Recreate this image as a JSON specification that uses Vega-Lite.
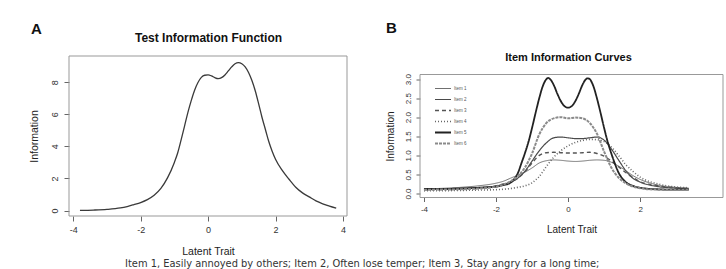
{
  "$schema": "https://vega.github.io/schema/vega-lite/v6.json",
  "autosize": {"type": "none"},
  "padding": {"left": 69, "top": 56, "right": 657, "bottom": 213},
  "background": "white",
  "bounds": "flush",
  "center": true,
  "spacing": 73,
  "config": {
    "font": "Liberation Sans",
    "view": {"stroke": null},
    "axis": {"grid": false, "domain": false, "tickColor": "#666", "labelColor": "#333", "titleColor": "#222", "titleFontWeight": "normal", "labelFont": "Liberation Sans", "titleFont": "Liberation Sans"},
    "legend": {"padding": 0}
  },
  "resolve": {"legend": {"color": "independent", "strokeDash": "independent", "strokeWidth": "independent"}},
  "title": {
    "text": "Item 1, Easily annoyed by others; Item 2, Often lose temper; Item 3, Stay angry for a long time;",
    "orient": "bottom", "anchor": "middle", "font": "DejaVu Sans", "fontSize": 9.9, "fontWeight": "normal", "color": "#333", "offset": 2, "dx": -14
  },
  "hconcat": [
    {
      "width": 278,
      "height": 160,
      "title": {"text": "A", "anchor": "start", "frame": "group", "fontSize": 15, "fontWeight": "bold", "color": "#111", "dx": -38, "dy": 10},
      "data": {"values": [
        {"theta": -3.8, "info": 0.01}, {"theta": -3.4, "info": 0.03}, {"theta": -3.0, "info": 0.07}, {"theta": -2.6, "info": 0.16},
        {"theta": -2.4, "info": 0.25}, {"theta": -2.2, "info": 0.37}, {"theta": -2.0, "info": 0.5}, {"theta": -1.8, "info": 0.68},
        {"theta": -1.6, "info": 0.95}, {"theta": -1.4, "info": 1.38}, {"theta": -1.2, "info": 2.05}, {"theta": -1.0, "info": 3.0},
        {"theta": -0.9, "info": 3.6}, {"theta": -0.8, "info": 4.4}, {"theta": -0.7, "info": 5.25}, {"theta": -0.6, "info": 6.1},
        {"theta": -0.5, "info": 6.85}, {"theta": -0.4, "info": 7.5}, {"theta": -0.3, "info": 7.98}, {"theta": -0.2, "info": 8.3},
        {"theta": -0.1, "info": 8.43}, {"theta": 0.0, "info": 8.45}, {"theta": 0.1, "info": 8.39}, {"theta": 0.2, "info": 8.28},
        {"theta": 0.3, "info": 8.22}, {"theta": 0.4, "info": 8.28}, {"theta": 0.5, "info": 8.45}, {"theta": 0.6, "info": 8.7},
        {"theta": 0.7, "info": 8.95}, {"theta": 0.8, "info": 9.15}, {"theta": 0.9, "info": 9.22}, {"theta": 1.0, "info": 9.15},
        {"theta": 1.1, "info": 8.95}, {"theta": 1.2, "info": 8.6}, {"theta": 1.3, "info": 8.1}, {"theta": 1.4, "info": 7.45},
        {"theta": 1.5, "info": 6.65}, {"theta": 1.6, "info": 5.8}, {"theta": 1.7, "info": 5.05}, {"theta": 1.8, "info": 4.3},
        {"theta": 1.9, "info": 3.7}, {"theta": 2.0, "info": 3.2}, {"theta": 2.2, "info": 2.5}, {"theta": 2.4, "info": 1.95},
        {"theta": 2.6, "info": 1.45}, {"theta": 2.8, "info": 1.1}, {"theta": 3.0, "info": 0.85}, {"theta": 3.2, "info": 0.6},
        {"theta": 3.4, "info": 0.42}, {"theta": 3.6, "info": 0.28}, {"theta": 3.8, "info": 0.15}
      ]},
      "layer": [
        {
          "data": {"values": [{"frame": "box"}]},
          "mark": {"type": "rect", "fill": "transparent", "stroke": "#999999", "strokeWidth": 1},
          "encoding": {
            "x": {"datum": -4.125, "type": "quantitative", "axis": null},
            "x2": {"datum": 4.12},
            "y": {"datum": -0.34, "type": "quantitative", "axis": null},
            "y2": {"datum": 9.63}
          }
        },
        {
          "mark": {"type": "line", "color": "#3a3a3a", "strokeWidth": 1.3, "interpolate": "monotone"},
          "encoding": {
            "x": {"field": "theta", "type": "quantitative", "scale": {"domain": [-4.125, 4.12], "nice": false, "zero": false},
              "axis": {"values": [-4, -2, 0, 2, 4], "labelExpr": "'' + datum.value", "title": "Latent Trait", "titleFontSize": 10.5, "labelFontSize": 9, "tickSize": 5, "labelPadding": 4, "titlePadding": 12}},
            "y": {"field": "info", "type": "quantitative", "scale": {"domain": [-0.34, 9.63], "nice": false, "zero": false},
              "axis": {"values": [0, 2, 4, 6, 8], "labelExpr": "'' + datum.value", "labelAngle": -90, "title": "Information", "titleFontSize": 10.5, "labelFontSize": 9, "tickSize": 5, "labelPadding": 5, "titlePadding": 11}}
          }
        },
        {
          "mark": {"type": "line", "opacity": 0},
          "encoding": {
            "x": {"field": "theta", "type": "quantitative", "axis": {"orient": "top", "title": "Test Information Function", "labels": false, "ticks": false, "titleFontSize": 12, "titleFontWeight": "bold", "titleColor": "#111", "titlePadding": 12}},
            "y": {"field": "info", "type": "quantitative", "axis": null}
          }
        }
      ],
      "resolve": {"axis": {"x": "independent", "y": "independent"}}
    },
    {
      "width": 303,
      "height": 123,
      "title": {"text": "B", "anchor": "start", "frame": "group", "fontSize": 15, "fontWeight": "bold", "color": "#111", "dx": -34, "dy": -12},
      "data": {"values": [
        {"item": "Item 1", "theta": -4.0, "info": 0.12}, {"item": "Item 1", "theta": -3.0, "info": 0.16}, {"item": "Item 1", "theta": -2.5, "info": 0.2},
        {"item": "Item 1", "theta": -2.0, "info": 0.27}, {"item": "Item 1", "theta": -1.8, "info": 0.32}, {"item": "Item 1", "theta": -1.6, "info": 0.4},
        {"item": "Item 1", "theta": -1.4, "info": 0.48}, {"item": "Item 1", "theta": -1.2, "info": 0.56}, {"item": "Item 1", "theta": -1.0, "info": 0.67},
        {"item": "Item 1", "theta": -0.8, "info": 0.8}, {"item": "Item 1", "theta": -0.6, "info": 0.86}, {"item": "Item 1", "theta": -0.4, "info": 0.88},
        {"item": "Item 1", "theta": -0.2, "info": 0.87}, {"item": "Item 1", "theta": 0.0, "info": 0.85}, {"item": "Item 1", "theta": 0.2, "info": 0.84},
        {"item": "Item 1", "theta": 0.4, "info": 0.85}, {"item": "Item 1", "theta": 0.6, "info": 0.87}, {"item": "Item 1", "theta": 0.8, "info": 0.88},
        {"item": "Item 1", "theta": 1.0, "info": 0.87}, {"item": "Item 1", "theta": 1.2, "info": 0.82}, {"item": "Item 1", "theta": 1.4, "info": 0.72},
        {"item": "Item 1", "theta": 1.6, "info": 0.6}, {"item": "Item 1", "theta": 1.8, "info": 0.47}, {"item": "Item 1", "theta": 2.0, "info": 0.37},
        {"item": "Item 1", "theta": 2.5, "info": 0.22}, {"item": "Item 1", "theta": 3.0, "info": 0.16}, {"item": "Item 1", "theta": 3.35, "info": 0.14},

        {"item": "Item 2", "theta": -4.0, "info": 0.12}, {"item": "Item 2", "theta": -3.0, "info": 0.13}, {"item": "Item 2", "theta": -2.5, "info": 0.15},
        {"item": "Item 2", "theta": -2.0, "info": 0.2}, {"item": "Item 2", "theta": -1.8, "info": 0.24}, {"item": "Item 2", "theta": -1.6, "info": 0.3},
        {"item": "Item 2", "theta": -1.4, "info": 0.4}, {"item": "Item 2", "theta": -1.2, "info": 0.58}, {"item": "Item 2", "theta": -1.0, "info": 0.85},
        {"item": "Item 2", "theta": -0.8, "info": 1.12}, {"item": "Item 2", "theta": -0.6, "info": 1.33}, {"item": "Item 2", "theta": -0.4, "info": 1.46},
        {"item": "Item 2", "theta": -0.2, "info": 1.48}, {"item": "Item 2", "theta": 0.0, "info": 1.46}, {"item": "Item 2", "theta": 0.2, "info": 1.44},
        {"item": "Item 2", "theta": 0.4, "info": 1.44}, {"item": "Item 2", "theta": 0.6, "info": 1.46}, {"item": "Item 2", "theta": 0.8, "info": 1.48},
        {"item": "Item 2", "theta": 1.0, "info": 1.4}, {"item": "Item 2", "theta": 1.2, "info": 1.17}, {"item": "Item 2", "theta": 1.4, "info": 0.88},
        {"item": "Item 2", "theta": 1.6, "info": 0.6}, {"item": "Item 2", "theta": 1.8, "info": 0.4}, {"item": "Item 2", "theta": 2.0, "info": 0.3},
        {"item": "Item 2", "theta": 2.5, "info": 0.18}, {"item": "Item 2", "theta": 3.0, "info": 0.14}, {"item": "Item 2", "theta": 3.35, "info": 0.12},

        {"item": "Item 3", "theta": -4.0, "info": 0.1}, {"item": "Item 3", "theta": -3.0, "info": 0.12}, {"item": "Item 3", "theta": -2.5, "info": 0.15},
        {"item": "Item 3", "theta": -2.0, "info": 0.2}, {"item": "Item 3", "theta": -1.8, "info": 0.25}, {"item": "Item 3", "theta": -1.6, "info": 0.3},
        {"item": "Item 3", "theta": -1.4, "info": 0.4}, {"item": "Item 3", "theta": -1.2, "info": 0.57}, {"item": "Item 3", "theta": -1.0, "info": 0.8},
        {"item": "Item 3", "theta": -0.8, "info": 1.0}, {"item": "Item 3", "theta": -0.6, "info": 1.07}, {"item": "Item 3", "theta": -0.4, "info": 1.08},
        {"item": "Item 3", "theta": -0.2, "info": 1.07}, {"item": "Item 3", "theta": 0.0, "info": 1.06}, {"item": "Item 3", "theta": 0.2, "info": 1.06},
        {"item": "Item 3", "theta": 0.4, "info": 1.07}, {"item": "Item 3", "theta": 0.6, "info": 1.08}, {"item": "Item 3", "theta": 0.8, "info": 1.05},
        {"item": "Item 3", "theta": 1.0, "info": 0.98}, {"item": "Item 3", "theta": 1.2, "info": 0.85}, {"item": "Item 3", "theta": 1.4, "info": 0.7},
        {"item": "Item 3", "theta": 1.6, "info": 0.55}, {"item": "Item 3", "theta": 1.8, "info": 0.42}, {"item": "Item 3", "theta": 2.0, "info": 0.31},
        {"item": "Item 3", "theta": 2.5, "info": 0.2}, {"item": "Item 3", "theta": 3.0, "info": 0.15}, {"item": "Item 3", "theta": 3.35, "info": 0.13},

        {"item": "Item 4", "theta": -4.0, "info": 0.07}, {"item": "Item 4", "theta": -3.0, "info": 0.08}, {"item": "Item 4", "theta": -2.5, "info": 0.09},
        {"item": "Item 4", "theta": -2.0, "info": 0.1}, {"item": "Item 4", "theta": -1.6, "info": 0.13}, {"item": "Item 4", "theta": -1.4, "info": 0.16},
        {"item": "Item 4", "theta": -1.2, "info": 0.2}, {"item": "Item 4", "theta": -1.0, "info": 0.28}, {"item": "Item 4", "theta": -0.8, "info": 0.45},
        {"item": "Item 4", "theta": -0.6, "info": 0.71}, {"item": "Item 4", "theta": -0.4, "info": 0.95}, {"item": "Item 4", "theta": -0.2, "info": 1.12},
        {"item": "Item 4", "theta": 0.0, "info": 1.25}, {"item": "Item 4", "theta": 0.2, "info": 1.34}, {"item": "Item 4", "theta": 0.4, "info": 1.39},
        {"item": "Item 4", "theta": 0.6, "info": 1.42}, {"item": "Item 4", "theta": 0.8, "info": 1.41}, {"item": "Item 4", "theta": 1.0, "info": 1.36},
        {"item": "Item 4", "theta": 1.2, "info": 1.22}, {"item": "Item 4", "theta": 1.4, "info": 1.0}, {"item": "Item 4", "theta": 1.6, "info": 0.76},
        {"item": "Item 4", "theta": 1.8, "info": 0.58}, {"item": "Item 4", "theta": 2.0, "info": 0.43}, {"item": "Item 4", "theta": 2.5, "info": 0.25},
        {"item": "Item 4", "theta": 3.0, "info": 0.17}, {"item": "Item 4", "theta": 3.35, "info": 0.15},

        {"item": "Item 5", "theta": -4.0, "info": 0.12}, {"item": "Item 5", "theta": -3.5, "info": 0.12}, {"item": "Item 5", "theta": -3.0, "info": 0.13},
        {"item": "Item 5", "theta": -2.5, "info": 0.15}, {"item": "Item 5", "theta": -2.0, "info": 0.18}, {"item": "Item 5", "theta": -1.8, "info": 0.22},
        {"item": "Item 5", "theta": -1.6, "info": 0.28}, {"item": "Item 5", "theta": -1.5, "info": 0.37}, {"item": "Item 5", "theta": -1.4, "info": 0.52},
        {"item": "Item 5", "theta": -1.3, "info": 0.78}, {"item": "Item 5", "theta": -1.2, "info": 1.05}, {"item": "Item 5", "theta": -1.1, "info": 1.35},
        {"item": "Item 5", "theta": -1.0, "info": 1.72}, {"item": "Item 5", "theta": -0.9, "info": 2.12}, {"item": "Item 5", "theta": -0.8, "info": 2.5},
        {"item": "Item 5", "theta": -0.7, "info": 2.82}, {"item": "Item 5", "theta": -0.6, "info": 3.0}, {"item": "Item 5", "theta": -0.55, "info": 3.03},
        {"item": "Item 5", "theta": -0.5, "info": 3.0}, {"item": "Item 5", "theta": -0.4, "info": 2.85}, {"item": "Item 5", "theta": -0.3, "info": 2.62},
        {"item": "Item 5", "theta": -0.2, "info": 2.42}, {"item": "Item 5", "theta": -0.1, "info": 2.29}, {"item": "Item 5", "theta": 0.0, "info": 2.25},
        {"item": "Item 5", "theta": 0.1, "info": 2.29}, {"item": "Item 5", "theta": 0.2, "info": 2.42}, {"item": "Item 5", "theta": 0.3, "info": 2.62},
        {"item": "Item 5", "theta": 0.4, "info": 2.85}, {"item": "Item 5", "theta": 0.5, "info": 3.0}, {"item": "Item 5", "theta": 0.55, "info": 3.02},
        {"item": "Item 5", "theta": 0.6, "info": 3.0}, {"item": "Item 5", "theta": 0.7, "info": 2.82}, {"item": "Item 5", "theta": 0.8, "info": 2.5},
        {"item": "Item 5", "theta": 0.9, "info": 2.12}, {"item": "Item 5", "theta": 1.0, "info": 1.72}, {"item": "Item 5", "theta": 1.1, "info": 1.35},
        {"item": "Item 5", "theta": 1.2, "info": 1.05}, {"item": "Item 5", "theta": 1.3, "info": 0.78}, {"item": "Item 5", "theta": 1.4, "info": 0.55},
        {"item": "Item 5", "theta": 1.5, "info": 0.4}, {"item": "Item 5", "theta": 1.6, "info": 0.3}, {"item": "Item 5", "theta": 1.8, "info": 0.2},
        {"item": "Item 5", "theta": 2.0, "info": 0.15}, {"item": "Item 5", "theta": 2.5, "info": 0.11}, {"item": "Item 5", "theta": 3.0, "info": 0.1},
        {"item": "Item 5", "theta": 3.35, "info": 0.1},

        {"item": "Item 6", "theta": -4.0, "info": 0.1}, {"item": "Item 6", "theta": -3.0, "info": 0.11}, {"item": "Item 6", "theta": -2.5, "info": 0.13},
        {"item": "Item 6", "theta": -2.0, "info": 0.18}, {"item": "Item 6", "theta": -1.8, "info": 0.23}, {"item": "Item 6", "theta": -1.6, "info": 0.32},
        {"item": "Item 6", "theta": -1.4, "info": 0.45}, {"item": "Item 6", "theta": -1.2, "info": 0.68}, {"item": "Item 6", "theta": -1.0, "info": 1.05},
        {"item": "Item 6", "theta": -0.8, "info": 1.55}, {"item": "Item 6", "theta": -0.6, "info": 1.85}, {"item": "Item 6", "theta": -0.4, "info": 1.97},
        {"item": "Item 6", "theta": -0.2, "info": 2.0}, {"item": "Item 6", "theta": 0.0, "info": 1.97}, {"item": "Item 6", "theta": 0.2, "info": 1.99},
        {"item": "Item 6", "theta": 0.4, "info": 1.97}, {"item": "Item 6", "theta": 0.6, "info": 1.85}, {"item": "Item 6", "theta": 0.8, "info": 1.57},
        {"item": "Item 6", "theta": 1.0, "info": 1.1}, {"item": "Item 6", "theta": 1.2, "info": 0.68}, {"item": "Item 6", "theta": 1.4, "info": 0.42},
        {"item": "Item 6", "theta": 1.6, "info": 0.27}, {"item": "Item 6", "theta": 1.8, "info": 0.18}, {"item": "Item 6", "theta": 2.0, "info": 0.14},
        {"item": "Item 6", "theta": 2.5, "info": 0.1}, {"item": "Item 6", "theta": 3.0, "info": 0.09}, {"item": "Item 6", "theta": 3.35, "info": 0.09}
      ]},
      "layer": [
        {
          "data": {"values": [{"frame": "box"}]},
          "mark": {"type": "rect", "fill": "transparent", "stroke": "#999999", "strokeWidth": 1},
          "encoding": {
            "x": {"datum": -4.11, "type": "quantitative", "axis": null},
            "x2": {"datum": 4.3},
            "y": {"datum": -0.105, "type": "quantitative", "axis": null},
            "y2": {"datum": 3.12}
          }
        },
        {
          "mark": {"type": "line", "interpolate": "monotone"},
          "encoding": {
            "x": {"field": "theta", "type": "quantitative", "scale": {"domain": [-4.11, 4.3], "nice": false, "zero": false},
              "axis": {"values": [-4, -2, 0, 2], "labelExpr": "'' + datum.value", "title": "Latent Trait", "titleFontSize": 10, "labelFontSize": 8, "tickSize": 4, "labelPadding": 4, "titlePadding": 11}},
            "y": {"field": "info", "type": "quantitative", "scale": {"domain": [-0.105, 3.12], "nice": false, "zero": false},
              "axis": {"values": [0, 0.5, 1, 1.5, 2, 2.5, 3], "labelExpr": "format(datum.value, '.1f')", "labelAngle": -90, "title": "Information", "titleFontSize": 10, "labelFontSize": 8, "tickSize": 4, "labelPadding": 4, "titlePadding": 9}},
            "color": {"field": "item", "type": "ordinal", "scale": {"range": ["#707070", "#4a4a4a", "#555555", "#666666", "#222222", "#8a8a8a"]},
              "legend": {"orient": "none", "legendX": 14, "legendY": 9.5, "title": null, "symbolType": "stroke", "symbolSize": 256, "labelFontSize": 4.5, "labelColor": "#555", "clipHeight": 9, "rowPadding": 2, "labelOffset": 2}},
            "strokeDash": {"field": "item", "type": "ordinal", "scale": {"range": [[1, 0], [1, 0], [4, 3], [1, 2], [1, 0], [3, 1]]},
              "legend": {"orient": "none", "legendX": 14, "legendY": 9.5, "title": null, "symbolType": "stroke", "symbolSize": 256, "labelFontSize": 4.5, "labelColor": "#555", "clipHeight": 9, "rowPadding": 2, "labelOffset": 2}},
            "strokeWidth": {"field": "item", "type": "ordinal", "scale": {"range": [1, 2, 1.2, 1.2, 2.2, 1.1]},
              "legend": {"orient": "none", "legendX": 14, "legendY": 9.5, "title": null, "symbolType": "stroke", "symbolSize": 256, "labelFontSize": 4.5, "labelColor": "#555", "clipHeight": 9, "rowPadding": 2, "labelOffset": 2}}
          }
        },
        {
          "mark": {"type": "line", "opacity": 0},
          "encoding": {
            "x": {"field": "theta", "type": "quantitative", "axis": {"orient": "top", "title": "Item Information Curves", "labels": false, "ticks": false, "titleFontSize": 11, "titleFontWeight": "bold", "titleColor": "#111", "titlePadding": 12, "titleX": 148}},
            "y": {"field": "info", "type": "quantitative", "axis": null},
            "detail": {"field": "item", "type": "nominal"}
          }
        }
      ],
      "resolve": {"axis": {"x": "independent", "y": "independent"}}
    }
  ]
}
